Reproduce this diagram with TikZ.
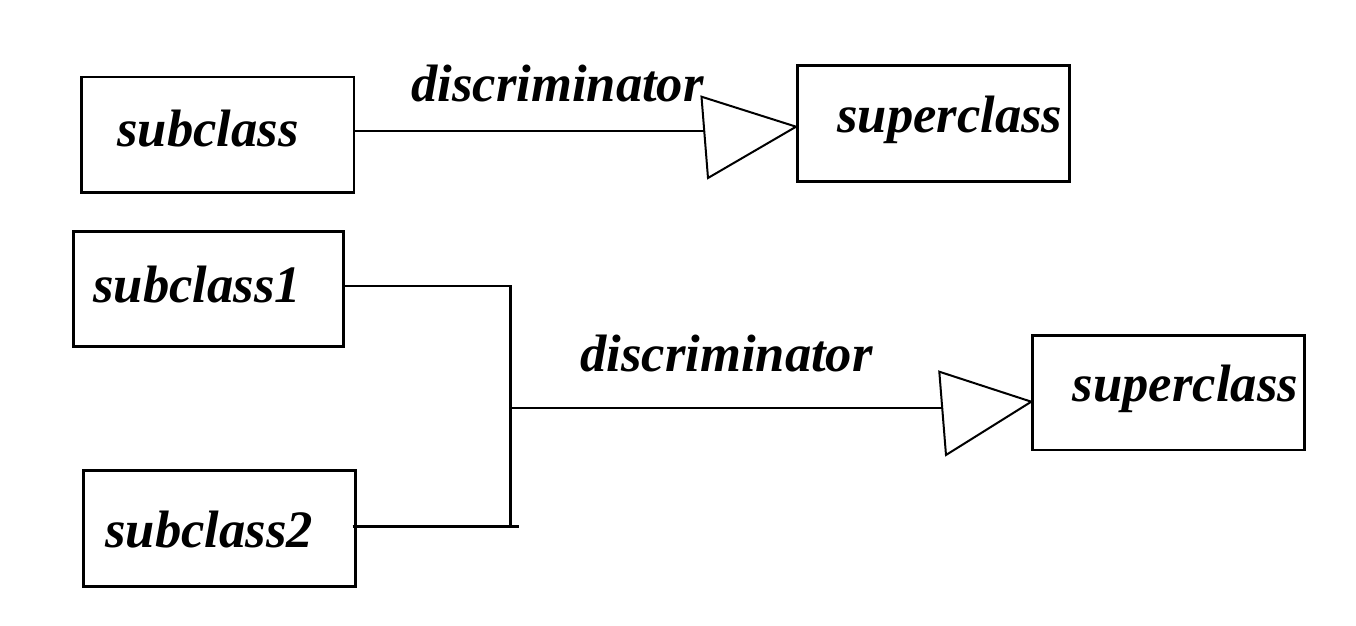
\documentclass[tikz,border=0pt]{standalone}
\usepackage{fontspec}
\setmainfont{Liberation Serif}
\begin{document}
\begin{tikzpicture}[x=0.5pt,y=-0.5pt,
  classbox/.style={draw, line width=1.4pt, inner sep=0pt, rectangle},
  lbl/.style={anchor=base west, inner sep=0pt, font=\fontsize{26.3}{30}\selectfont\bfseries\itshape},
  conn/.style={line width=1.3pt},
  gen/.style={line width=1pt, line join=miter, fill=white}]
\useasboundingbox[fill=white] (0,0) rectangle (1356,626);
% top diagram
\node[classbox, minimum width=136.25pt, minimum height=57.75pt] (sub) at (217.75,134.75) {};
\node[classbox, minimum width=135.9pt, minimum height=58pt] (sup1) at (933.4,123.7) {};
\node[lbl] (tsub) at (117,146.7) {subclass};
\node[lbl] (tsup1) at (837,132.7) {superclass};
\node[lbl] (td1) at (411,101.7) {discriminator};
\coordinate (t1a) at (701.5,96.7);
\coordinate (t1b) at (708,178);
\coordinate (t1m) at (704.2,131);
\draw[conn] (sub.east |- t1m) -- (t1m);
\draw[gen] (t1a) -- (sup1.west |- 0,126.7) -- (t1b) -- cycle;
% bottom diagram
\node[classbox, minimum width=135pt, minimum height=57.5pt] (sub1) at (208.3,289.2) {};
\node[classbox, minimum width=136pt, minimum height=58pt] (sub2) at (219.3,528.7) {};
\node[classbox, minimum width=135.8pt, minimum height=57.15pt] (sup2) at (1168.5,392.85) {};
\node[lbl] (tsub1) at (93,302.7) {subclass1};
\node[lbl] (tsub2) at (105,547) {subclass2};
\node[lbl] (tsup2) at (1072.5,401.7) {superclass};
\node[lbl] (td2) at (580,371.7) {discriminator};
\coordinate (j1) at (510.7,286);
\coordinate (j2) at (510.7,526.7);
\coordinate (j3) at (518.7,526.7);
\coordinate (jm) at (510.7,408);
\coordinate (t2a) at (939.3,371.7);
\coordinate (t2b) at (946,455);
\coordinate (t2m) at (942.2,408);
\draw[conn] (sub1.east |- j1) -- (j1) -- (j2);
\draw[conn] ([xshift=-2pt]sub2.east |- j2) -- (j3);
\draw[conn] (jm) -- (t2m);
\draw[gen] (t2a) -- (sup2.west |- 0,401.7) -- (t2b) -- cycle;
\end{tikzpicture}
\end{document}
